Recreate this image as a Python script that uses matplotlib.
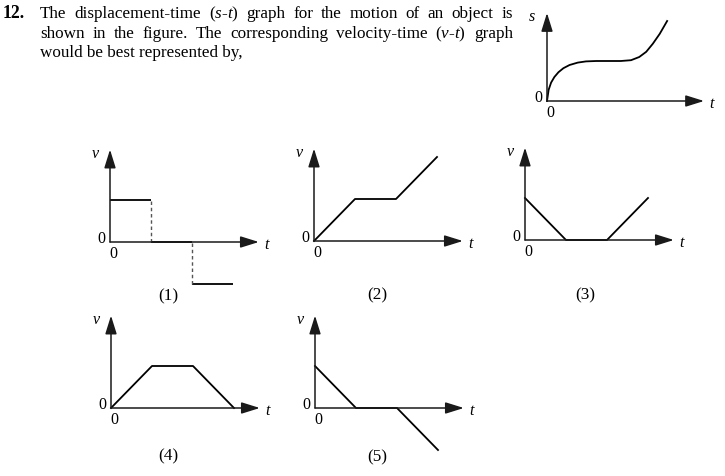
"""
Textbook question: s-t graph and five candidate v-t graphs.
Output: out.png (725x477)
"""
import matplotlib
matplotlib.use("Agg")
import matplotlib.pyplot as plt
from matplotlib.transforms import Affine2D

plt.rcParams['font.family'] = ['Liberation Serif', 'DejaVu Serif']
plt.rcParams['mathtext.fontset'] = 'custom'
plt.rcParams['mathtext.rm'] = 'Liberation Serif'
plt.rcParams['mathtext.it'] = 'Liberation Serif:italic'

W, H = 725, 477

# --- question text ---
question_num = "12."
line1 = ["The", "displacement-time", r"$(s$-$t)$", "graph", "for", "the",
         "motion", "of", "an", "object", "is"]
line2 = ["shown", "in", "the", "figure.", "The", "corresponding",
         "velocity-time", r"$(v$-$t)$", "graph"]
line3 = "would be best represented by,"

# --- s-t graph ---
st_t = [0, 0.04, 0.1, 0.18, 0.28, 0.4, 0.55, 0.75, 0.95, 1.2, 1.5, 1.8,
        2.05, 2.25, 2.42, 2.58, 2.75, 2.93]
st_s = [0, 0.28, 0.46, 0.6, 0.72, 0.82, 0.9, 0.96, 0.99, 1.0, 1.0, 1.0,
        1.02, 1.1, 1.23, 1.43, 1.68, 2.0]

# --- options ---
opt_t = [0, 1, 2, 3]
opt1_v = [1, 0, -1]          # step levels between opt_t points
opt2_v = [0, 1, 1, 2]
opt3_v = [1, 0, 0, 1]
opt4_v = [0, 1, 1, 0]
opt5_v = [1, 0, 0, -1]
option_labels = ["(1)", "(2)", "(3)", "(4)", "(5)"]

fig = plt.figure(figsize=(W / 100, H / 100), dpi=100)
fig.patch.set_facecolor("white")
# pixel transform, y downward
px = Affine2D().scale(1 / W, -1 / H).translate(0, 1) + fig.transFigure

FS = 12.3
renderer = fig.canvas.get_renderer()


def justify(words, x0, x1, y):
    texts = [fig.text(x0, y, w, transform=px, fontsize=FS, va="baseline")
             for w in words]
    widths = [t.get_window_extent(renderer).width for t in texts]
    gap = (x1 - x0 - sum(widths)) / (len(words) - 1)
    x = x0
    for t, w in zip(texts, widths):
        t.set_x(x)
        x += w + gap


fig.text(3, 18, question_num, transform=px, fontsize=FS + 0.5,
         fontweight="bold", va="baseline")
justify(line1, 40, 513, 18)
justify(line2, 40, 513, 38)
fig.text(40, 57, line3, transform=px, fontsize=FS, va="baseline")


def make_axes(ox, oy, ux=41, uy=42, xlim=(-0.7, 4.2), ylim=(-1.5, 2.5)):
    left = (ox + xlim[0] * ux) / W
    bottom = 1 - (oy - ylim[0] * uy) / H
    ax = fig.add_axes([left, bottom, (xlim[1] - xlim[0]) * ux / W,
                       (ylim[1] - ylim[0]) * uy / H])
    ax.set_xlim(xlim)
    ax.set_ylim(ylim)
    ax.axis("off")
    return ax


def draw_frame(ax, ylab, xtip=3.63, ytip=2.2):
    kw = dict(arrowstyle="-|>,head_length=0.8,head_width=0.25",
              color="#1a1a1a", lw=1.1, shrinkA=0, shrinkB=0,
              mutation_scale=14)
    ax.annotate("", xy=(xtip, 0), xytext=(0, 0), arrowprops=kw)
    ax.annotate("", xy=(0, ytip), xytext=(0, 0), arrowprops=kw)
    tk = dict(textcoords="offset pixels", ha="center", va="center",
              fontsize=11.5, annotation_clip=False)
    ax.annotate(ylab, xy=(0, ytip), xytext=(-15, -3), style="italic", **tk)
    ax.annotate("t", xy=(xtip, 0), xytext=(8, -2), style="italic", **tk)
    ax.annotate("0", xy=(0, 0), xytext=(-9, 4), **tk)
    ax.annotate("0", xy=(0, 0), xytext=(3, -11), **tk)


LW = 1.3

# s-t graph
ax = make_axes(547, 102, ux=41, uy=40)
draw_frame(ax, "s", xtip=3.83, ytip=2.2)
ax.plot(st_t, st_s, color="black", lw=LW)

# option graphs
origins = [(110, 243), (314, 242), (525, 241), (111, 409), (315, 409)]
label_pos = [(168, 296), (377, 295), (585, 295), (168, 456), (377, 457)]
series = [None, opt2_v, opt3_v, opt4_v, opt5_v]

for (ox, oy), (lx, ly), lab, v in zip(origins, label_pos, option_labels, series):
    ax = make_axes(ox, oy)
    draw_frame(ax, "v")
    if v is None:
        ax.hlines(opt1_v, opt_t[:-1], opt_t[1:], color="black", lw=LW)
        ax.vlines(opt_t[1:3], opt1_v[1:], opt1_v[:-1], color="#555555",
                  lw=1.0, linestyles=(0, (2.5, 2)))
    else:
        ax.plot(opt_t, v, color="black", lw=LW)
    fig.text(lx, ly, lab, transform=px, fontsize=FS, ha="center",
             va="center")

fig.savefig("out.png", dpi=100, facecolor="white")
plt.close(fig)
